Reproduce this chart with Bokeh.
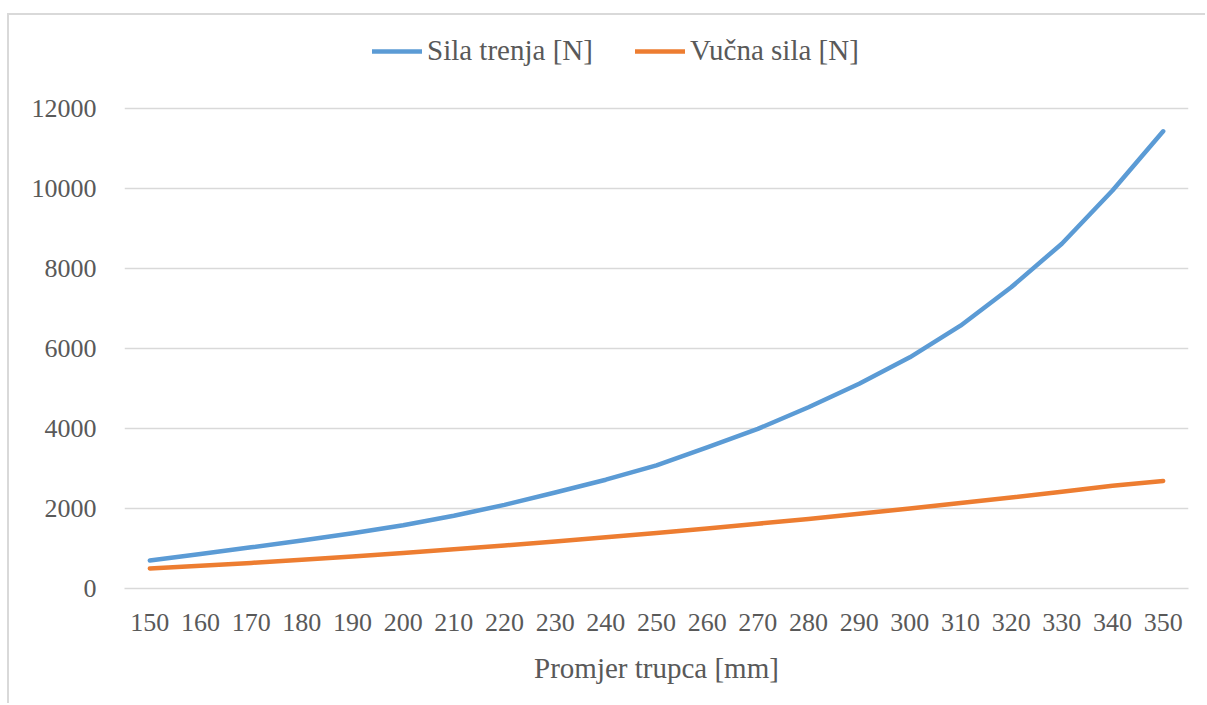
from bokeh.plotting import figure
from bokeh.models import (ColumnDataSource, FactorRange, Range1d, FixedTicker,
                          Legend, LegendItem)
from bokeh.embed import file_html
from bokeh.resources import INLINE

# ---- data ----
categories = ["150", "160", "170", "180", "190", "200", "210", "220", "230", "240",
              "250", "260", "270", "280", "290", "300", "310", "320", "330", "340", "350"]
sila_trenja = [700, 860, 1030, 1200, 1380, 1580, 1820, 2090, 2400, 2720,
               3080, 3530, 3990, 4530, 5120, 5780, 6570, 7530, 8620, 9950, 11430]
vucna_sila = [500, 570, 640, 720, 800, 890, 980, 1075, 1175, 1280,
              1390, 1500, 1620, 1740, 1870, 2000, 2135, 2275, 2420, 2570, 2690]
y_ticks = [0, 2000, 4000, 6000, 8000, 10000, 12000]
legend_labels = ["Sila trenja [N]", "Vučna sila [N]"]
x_title = "Promjer trupca [mm]"

FONT = "Liberation Serif"
TXT = "#595959"
GRID = "#d9d9d9"

# layout: value axis 0..12000 spans 480px; the frame is extended upward
# (empty, white) so the legend can sit above the 12000 gridline
AXIS_PX = 480
FRAME_H = 563
y_top = max(y_ticks) * FRAME_H / AXIS_PX

src = ColumnDataSource(dict(x=categories, a=sila_trenja, b=vucna_sila))

p = figure(x_range=FactorRange(factors=categories, range_padding=0),
           y_range=Range1d(0, y_top),
           frame_width=1064, frame_height=FRAME_H,
           min_border_left=115, min_border_right=17,
           min_border_top=10, min_border_bottom=115,
           output_backend="svg", toolbar_location=None)
p.styles = {"margin-top": "13px", "margin-left": "7px",
            "border-top": "2px solid #d9d9d9",
            "border-left": "2px solid #d9d9d9"}

p.outline_line_color = None
p.background_fill_color = "white"
p.border_fill_color = "white"

p.xgrid.grid_line_color = None
p.ygrid.grid_line_color = GRID
p.ygrid.grid_line_width = 1.3

p.yaxis.ticker = FixedTicker(ticks=y_ticks)
p.yaxis.axis_line_color = None
p.yaxis.major_tick_line_color = None
p.yaxis.minor_tick_line_color = None
p.yaxis.major_label_text_font = FONT
p.yaxis.major_label_text_font_size = "26px"
p.yaxis.major_label_text_color = TXT
p.yaxis.major_label_standoff = 22

p.xaxis.axis_line_color = GRID
p.xaxis.axis_line_width = 1.3
p.xaxis.major_tick_line_color = None
p.xaxis.minor_tick_line_color = None
p.xaxis.major_label_text_font = FONT
p.xaxis.major_label_text_font_size = "26px"
p.xaxis.major_label_text_color = TXT
p.xaxis.major_label_standoff = 19
p.xaxis.axis_label = x_title
p.xaxis.axis_label_text_font = FONT
p.xaxis.axis_label_text_font_size = "29px"
p.xaxis.axis_label_text_font_style = "normal"
p.xaxis.axis_label_text_color = TXT
p.xaxis.axis_label_standoff = 18

r1 = p.line(x="x", y="a", source=src, line_color="#5B9BD5", line_width=4.5,
            line_cap="round", line_join="round")
r2 = p.line(x="x", y="b", source=src, line_color="#ED7D31", line_width=4.5,
            line_cap="round", line_join="round")

legend = Legend(items=[LegendItem(label=legend_labels[0], renderers=[r1]),
                       LegendItem(label=legend_labels[1], renderers=[r2])],
                orientation="horizontal", location=(248, 521),
                padding=0, margin=0, spacing=42,
                glyph_width=50, glyph_height=28, label_height=28,
                label_standoff=5,
                label_text_font=FONT, label_text_font_size="29px",
                label_text_color=TXT,
                border_line_color=None, background_fill_alpha=0)
p.add_layout(legend)

open("out.html", "w").write(file_html(p, INLINE))
